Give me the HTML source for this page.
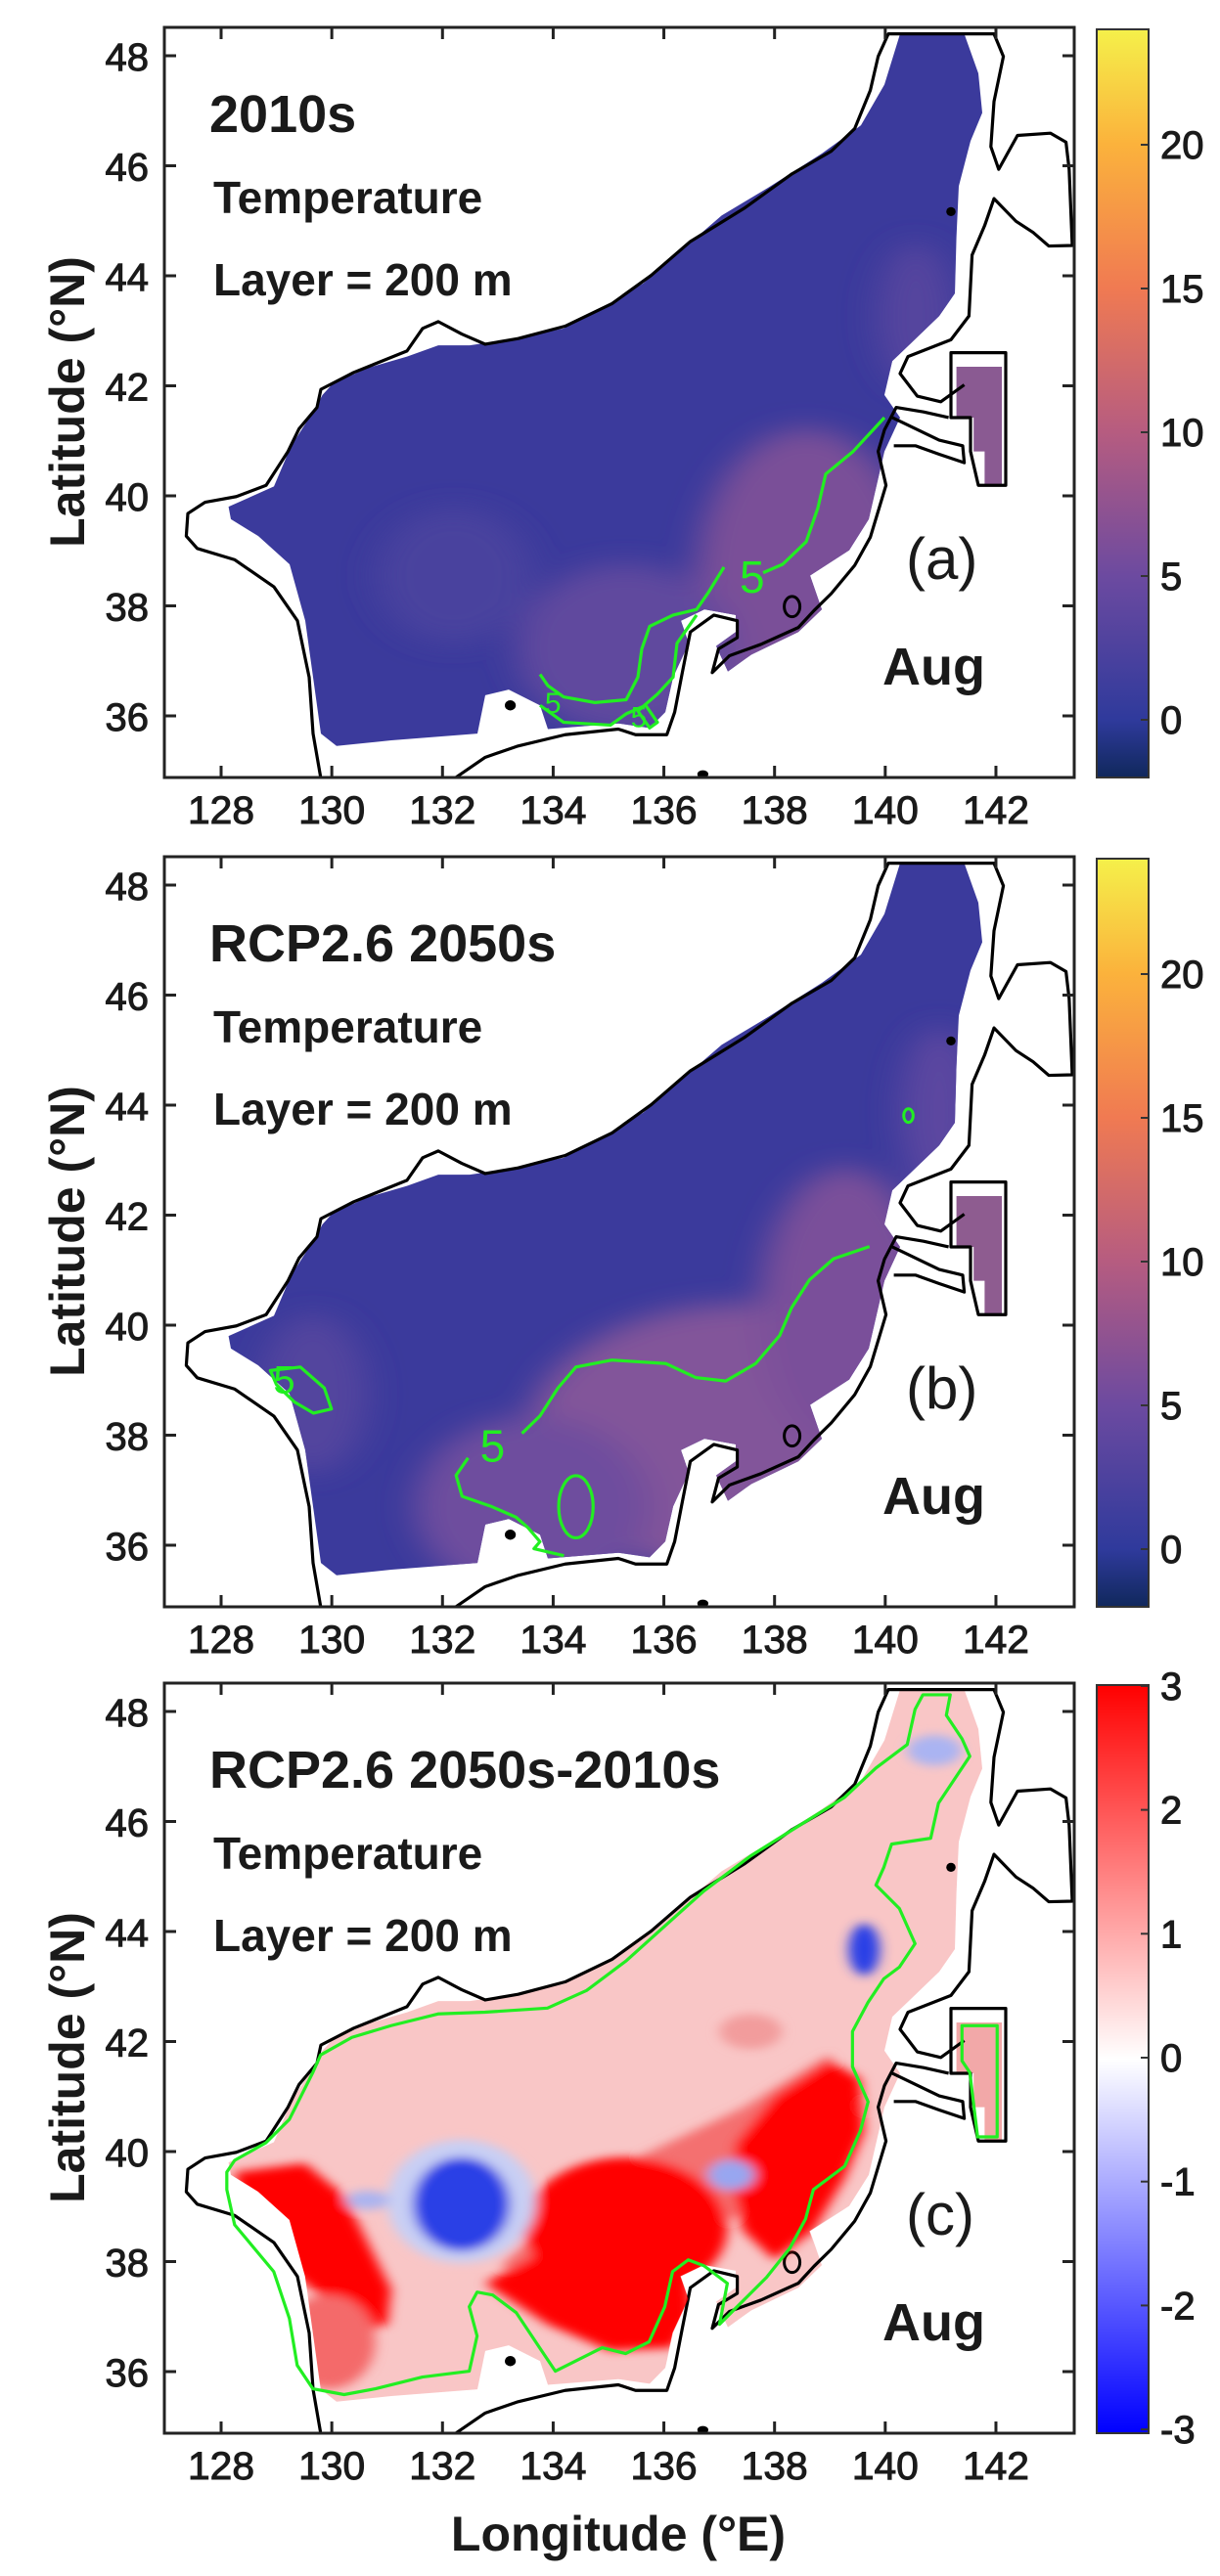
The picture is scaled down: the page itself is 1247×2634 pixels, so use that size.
<!DOCTYPE html>
<html><head><meta charset="utf-8"><style>
html,body{margin:0;padding:0;background:#fff}
svg{display:block}
text{font-family:"Liberation Sans",Arial,sans-serif;fill:#1a1a1a}
.tk{font-size:40px;stroke:#1a1a1a;stroke-width:1px}
.ttl{font-size:54px;font-weight:bold}
.sub{font-size:46px;font-weight:bold}
.lab{font-size:60px}
.aug{font-size:54px;font-weight:bold}
.axl{font-size:50px;font-weight:bold}
</style></head><body>
<svg id="fig" width="1247" height="2634" viewBox="0 0 1247 2634" xmlns="http://www.w3.org/2000/svg">
<defs>
<linearGradient id="gT" x1="0" y1="0" x2="0" y2="1">
<stop offset="0" stop-color="#f5f04a"/><stop offset="0.154" stop-color="#fbb23c"/><stop offset="0.346" stop-color="#f07a52"/>
<stop offset="0.538" stop-color="#b65c80"/><stop offset="0.731" stop-color="#6c4aa0"/><stop offset="0.923" stop-color="#2f3a9c"/><stop offset="1" stop-color="#10285c"/>
</linearGradient>
<linearGradient id="gD" x1="0" y1="0" x2="0" y2="1">
<stop offset="0" stop-color="#ff0000"/><stop offset="0.5" stop-color="#ffffff"/><stop offset="1" stop-color="#0000ff"/>
</linearGradient>
<filter id="blur" x="-50%" y="-50%" width="200%" height="200%"><feGaussianBlur stdDeviation="22"/></filter>
<filter id="blur2" x="-50%" y="-50%" width="200%" height="200%"><feGaussianBlur stdDeviation="8"/></filter>
<clipPath id="axclip"><rect x="168" y="28" width="930" height="767"/></clipPath>
</defs>
</svg>
<script>
// ---- axis data ----
const lonTicks = [128,130,132,134,136,138,140,142];
const latTicks = [36,38,40,42,44,46,48];
const tempTicks = [0,5,10,15,20];
const diffTicks = [-3,-2,-1,0,1,2,3];
const panelTitles = ["2010s","RCP2.6 2050s","RCP2.6 2050s-2010s"];
const panelLetters = ["(a)","(b)","(c)"];
const panelOffsets = [0,848,1693];

const NS="http://www.w3.org/2000/svg";
const svg=document.getElementById('fig');
function el(tag,attrs,parent){const e=document.createElementNS(NS,tag);for(const k in attrs)e.setAttribute(k,attrs[k]);(parent||svg).appendChild(e);return e;}
const xScale=lon=>226+(lon-128)*56.57;
const yScale=lat=>57+(48-lat)*56.25;
const tScale=v=>736-v*29.4;
const dScale=v=>411-v*126.7;
function pts(a){return a.map(p=>p[0]+','+p[1]).join(' ');}
function pathD(a,close){let d='M'+a.map(p=>p[0]+' '+p[1]).join(' L');return close?d+' Z':d;}

const sea=[[1150,60],[1232,60],[1250,130],[1255,200],[1240,250],[1225,330],[1222,420],[1220,520],[1200,560],[1170,600],[1140,640],[1130,700],[1150,740],[1130,800],[1120,860],[1110,920],[1085,975],[1035,1020],[1050,1080],[1020,1120],[960,1160],[930,1190],[915,1145],[940,1120],[940,1090],[900,1080],[870,1100],[880,1140],[860,1200],[850,1262],[830,1290],[790,1282],[700,1292],[690,1250],[650,1222],[620,1232],[610,1300],[500,1312],[430,1322],[410,1300],[400,1200],[390,1100],[370,1000],[330,950],[295,920],[292,898],[350,862],[372,790],[400,730],[412,700],[425,680],[470,652],[520,632],[560,612],[600,612],[650,602],[720,582],[762,552],[822,502],[872,442],[922,382],[982,332],[1050,272],[1100,222],[1130,150]];
const coastW=[[410,1380],[400,1300],[395,1200],[380,1100],[350,1040],[300,992],[252,972],[238,950],[240,910],[262,890],[302,880],[340,860],[368,800],[382,760],[405,722],[410,690],[452,660],[520,622],[540,582],[560,570],[590,592],[620,610],[662,600],[722,578],[782,538],[832,488],[882,428],[952,368],[1012,308],[1062,268],[1092,228],[1112,160],[1122,100],[1135,60],[1270,60],[1282,100],[1270,180],[1266,260],[1276,300],[1300,240],[1342,236],[1362,252],[1366,300],[1370,435],[1340,436],[1320,412],[1298,392],[1270,352],[1258,400],[1242,452],[1238,560],[1215,602],[1160,632],[1150,662],[1172,702],[1202,712],[1232,682]];
const coastE=[[1212,740],[1180,730],[1145,722],[1130,762],[1122,800],[1132,860],[1112,952],[1092,1002],[1062,1052],[1040,1082],[1020,1112],[972,1142],[932,1162],[910,1192],[918,1150],[942,1130],[942,1100],[912,1090],[882,1120],[872,1190],[862,1262],[852,1302],[812,1302],[790,1292],[722,1302],[662,1322],[620,1342],[580,1380]];
const rectLand=[[1215,625],[1285,625],[1285,860],[1250,860],[1240,800],[1240,740],[1215,740]];
const rectSea=[[1222,650],[1280,650],[1280,858],[1258,858],[1258,800],[1244,800],[1244,740],[1222,740]];
const honshuBit=[[1140,740],[1200,780],[1230,790],[1232,820],[1200,805],[1170,790],[1142,790]];

function drawMap(g,kind){
  const m=el('g',{transform:'scale(0.8,0.577)'},g);
  
  
  if(kind==='c'){
    el('polygon',{points:pts(sea),fill:'#f9c6c6'},m);
    el('polygon',{points:pts(rectSea),fill:'#f2a8a8'},m);
  } else {
    el('polygon',{points:pts(sea),fill:'#3b3a9c'},m);
    el('polygon',{points:pts(rectSea),fill:kind==='a'?'#8a5a92':'#8e5c90'},m);
    const cl=el('clipPath',{id:'sc'+kind},m);
    el('polygon',{points:pts(sea)},cl);
    const w=el('g',{'clip-path':'url(#sc'+kind+')',filter:'url(#blur)'},m);
    if(kind==='a'){
      el('ellipse',{cx:1030,cy:1020,rx:140,ry:260,fill:'#7a5098'},w);
      el('ellipse',{cx:800,cy:1150,rx:140,ry:150,fill:'#604a9e'},w);
      el('ellipse',{cx:580,cy:1020,rx:100,ry:120,fill:'#48429e'},w);
      el('ellipse',{cx:1170,cy:560,rx:50,ry:130,fill:'#54449e'},w);
    } else {
      el('ellipse',{cx:950,cy:1080,rx:280,ry:240,fill:'#82549a'},w);
      el('ellipse',{cx:1080,cy:850,rx:110,ry:250,fill:'#7a509a'},w);
      el('ellipse',{cx:680,cy:1200,rx:150,ry:160,fill:'#6e4e9e'},w);
      el('ellipse',{cx:400,cy:1000,rx:70,ry:140,fill:'#52449e'},w);
      el('ellipse',{cx:1200,cy:500,rx:50,ry:150,fill:'#5c46a0'},w);
    }
  }
  const st={fill:'none',stroke:'#000','stroke-width':3.2,'vector-effect':'non-scaling-stroke','stroke-linejoin':'round'};
  const c1=el('path',Object.assign({d:pathD(coastW)},st),m);
  
  
  const c2=el('path',Object.assign({d:pathD(coastE)},st),m);
  
  
  el('path',Object.assign({d:pathD(rectLand,true)},st),m);
  el('path',Object.assign({d:pathD(honshuBit)},st),m);
  el('ellipse',{cx:1012,cy:1075,rx:10,ry:18,fill:'none',stroke:'#000','stroke-width':3,'vector-effect':'non-scaling-stroke'},m);
  el('ellipse',{cx:652,cy:1250,rx:7,ry:9,fill:'#000'},m);
  el('ellipse',{cx:1215,cy:375,rx:6,ry:8,fill:'#000'},m);
  el('ellipse',{cx:898,cy:1372,rx:7,ry:7,fill:'#000'},m);
  return m;
}
function green(parent,d,name){const p=el('path',{d:d,fill:'none',stroke:'#22ee22','stroke-width':3.2,'vector-effect':'non-scaling-stroke','stroke-linejoin':'round'},parent);return p;}

panelOffsets.forEach((off,i)=>{
  const kind='abc'[i];
  const g=el('g',{transform:'translate(0,'+off+')'});
  
  
  const inner=el('g',{'clip-path':'url(#axclip)'},g);
  const m=drawMap(inner,kind);
  if(kind==='a'){
    green(m,pathD([[1130,740],[1090,800],[1055,840],[1045,900],[1030,960],[1000,1000],[975,1015]]),'contour-5');
    green(m,pathD([[925,1005],[905,1050],[890,1080],[860,1090],[830,1110],[820,1150],[815,1200],[800,1240],[760,1245],[720,1235],[700,1215],[690,1195]]),'contour-5b');
    green(m,pathD([[690,1250],[720,1280],[780,1285],[800,1265],[825,1250],[840,1280],[830,1290],[815,1260],[840,1230],[860,1200],[865,1140],[880,1110],[890,1090]]),'contour-5c');
    const t=el('text',{x:756,y:606,'font-size':46,style:'fill:#22ee22'},inner);t.textContent='5';
    
    
    const t2=el('text',{x:xScale(133.85),y:yScale(36.05),'font-size':30,style:'fill:#22ee22'},inner);t2.textContent='5';
    const t3=el('text',{x:xScale(135.4),y:yScale(35.8),'font-size':30,style:'fill:#22ee22'},inner);t3.textContent='5';
  } else if(kind==='b'){
    const z7=a=>a.map(p=>[(160+p[0]/1.633)*1.25,(1080+p[1]/2.8-848)*1.733]);
    green(m,pathD(z7([[1190,545],[1130,580],[1090,640],[1060,720],[1040,800],[1000,880],[950,930],[900,920],[850,880],[760,870],[700,890],[670,950],[640,1030],[610,1080]])),'contour-5');
    green(m,pathD(z7([[520,1150],[500,1200],[510,1260],[560,1290],[600,1320],[620,1350],[640,1390],[630,1410],[680,1430]])),'contour-5b');
    green(m,pathD(z7([[190,900],[240,890],[280,950],[292,1010],[262,1022],[230,990],[200,940]]),true),'contour-5-west');
    const o=z7([[700,1290]])[0];
    el('ellipse',{cx:o[0],cy:o[1],rx:22,ry:55,fill:'none',stroke:'#22ee22','stroke-width':3.2,'vector-effect':'non-scaling-stroke'},m);
    const q=z7([[1255,170]])[0];
    el('ellipse',{cx:q[0],cy:q[1],rx:6,ry:12,fill:'none',stroke:'#22ee22','stroke-width':3,'vector-effect':'non-scaling-stroke'},m);
    const t=el('text',{x:160+540/1.633,y:1080+1160/2.8-848,'font-size':46,style:'fill:#22ee22'},inner);
    t.textContent='5';
    
    
    const t2=el('text',{x:160+195/1.633,y:1080+965/2.8-848,'font-size':40,style:'fill:#22ee22'},inner);t2.textContent='5';
  } else {
    const b=el('g',{transform:'translate(0,7) scale(0.7994,0.5988)'},inner);
    const cl=el('clipPath',{id:'scC'},b);
    el('polygon',{points:pts(sea.map(p=>[p[0],p[1]*0.9636-12]))},cl);
    const bl=el('g',{'clip-path':'url(#scC)'},b);
    const f=el('g',{filter:'url(#blur2)'},bl);
    el('polygon',{points:pts([[640,1030],[760,880],[950,760],[1060,670],[1110,760],[990,900],[880,1000],[760,1090]]),fill:'#f47070'},f);
    el('polygon',{points:pts([[300,870],[390,855],[440,910],[470,990],[500,1070],[495,1130],[460,1145],[420,1090],[360,1030],[315,960]]),fill:'#ff0505'},f);
    el('ellipse',{cx:800,cy:965,rx:130,ry:120,fill:'#ff0505'},f);
    el('polygon',{points:pts([[620,1060],[700,1000],[880,1000],[885,1120],[860,1170],[780,1175],[700,1130]]),fill:'#ff0505'},f);
    el('polygon',{points:pts([[940,820],[990,740],[1060,680],[1100,710],[1105,800],[1080,880],[1040,970],[990,1020],[950,970],[935,890]]),fill:'#ff0505'},f);
    el('ellipse',{cx:420,cy:1160,rx:60,ry:80,fill:'#f46a6a'},f);
    el('ellipse',{cx:590,cy:920,rx:95,ry:105,fill:'#c8cff4'},f);
    el('ellipse',{cx:590,cy:925,rx:62,ry:80,fill:'#2a40e6'},f);
    el('ellipse',{cx:470,cy:918,rx:28,ry:16,fill:'#aab4f0'},f);
    el('ellipse',{cx:935,cy:875,rx:30,ry:26,fill:'#98a6f0'},f);
    el('ellipse',{cx:1105,cy:490,rx:20,ry:44,fill:'#2a40e6'},f);
    el('ellipse',{cx:1195,cy:150,rx:35,ry:26,fill:'#aab4f2'},f);
    el('ellipse',{cx:960,cy:630,rx:40,ry:30,fill:'#f29c9c'},f);
    green(b,pathD([[290,870],[300,850],[340,820],[370,780],[400,700],[410,670],[450,640],[500,620],[560,600],[620,597],[700,590],[750,560],[800,510],[850,450],[900,390],[960,330],[1020,280],[1080,230],[1120,180],[1160,140],[1170,80],[1180,55],[1215,55],[1210,90],[1230,130],[1240,160],[1220,200],[1200,240],[1190,300],[1140,310],[1130,350],[1120,380],[1150,420],[1170,480],[1150,520],[1130,540],[1110,580],[1090,630],[1090,690],[1110,750],[1100,800],[1080,860],[1040,900],[1030,950],[1010,1000],[980,1050],[950,1090],[920,1130],[930,1060],[900,1030],[880,1020],[860,1040],[850,1100],[830,1160],[800,1180],[770,1170],[740,1190],[710,1210],[690,1170],[660,1110],[630,1080],[610,1075],[600,1100],[610,1150],[600,1210],[540,1220],[480,1240],[440,1250],[400,1240],[380,1200],[370,1120],[350,1040],[300,960],[290,900]],true),'contour-0');
    green(b,pathD([[1230,620],[1275,620],[1275,810],[1250,810],[1240,700],[1230,680]],true),'contour-0-east');
  }
  const box=el('rect',{x:168,y:28,width:930,height:767,fill:'none',stroke:'#222','stroke-width':3},g);
  
  
  lonTicks.forEach(v=>{
    const x=xScale(v);
    el('line',{x1:x,y1:795,x2:x,y2:783,stroke:'#222','stroke-width':3},g);
    el('line',{x1:x,y1:28,x2:x,y2:40,stroke:'#222','stroke-width':3},g);
    const t=el('text',{x:x,y:842,'text-anchor':'middle',class:'tk',textLength:68,lengthAdjust:'spacingAndGlyphs'},g);t.textContent=v;
    
    
  });
  latTicks.forEach(v=>{
    const y=yScale(v);
    el('line',{x1:168,y1:y,x2:180,y2:y,stroke:'#222','stroke-width':3},g);
    el('line',{x1:1098,y1:y,x2:1086,y2:y,stroke:'#222','stroke-width':3},g);
    const t=el('text',{x:152,y:y+15,'text-anchor':'end',class:'tk'},g);t.textContent=v;
    
    
  });
  const yl=el('text',{x:0,y:0,transform:'translate(86,411) rotate(-90)','text-anchor':'middle',class:'axl'},g);
  yl.textContent='Latitude (°N)';
  
  
  const tt=el('text',{x:214,y:135,class:'ttl'},g);tt.textContent=panelTitles[i];
  
  
  const s1=el('text',{x:218,y:218,class:'sub'},g);s1.textContent='Temperature';
  
  
  const s2=el('text',{x:218,y:302,class:'sub'},g);s2.textContent='Layer = 200 m';
  
  
  const lt=el('text',{x:926,y:592,class:'lab'},g);lt.textContent=panelLetters[i];
  
  
  const au=el('text',{x:902,y:700,class:'aug'},g);au.textContent='Aug';
  
  
  const cb=el('rect',{x:1121,y:30,width:53,height:765,fill:kind==='c'?'url(#gD)':'url(#gT)',stroke:'#333','stroke-width':2},g);
  
  
  const ticks=kind==='c'?diffTicks:tempTicks, sc=kind==='c'?dScale:tScale;
  ticks.forEach(v=>{
    const y=sc(v);
    el('line',{x1:1174,y1:y,x2:1166,y2:y,stroke:'#333','stroke-width':2},g);
    const t=el('text',{x:1186,y:y+14,class:'tk'},g);t.textContent=v;
    
    
  });
});
const xl=el('text',{x:632,y:2608,'text-anchor':'middle',class:'axl'});
xl.textContent='Longitude (°E)';


</script>
</body></html>
